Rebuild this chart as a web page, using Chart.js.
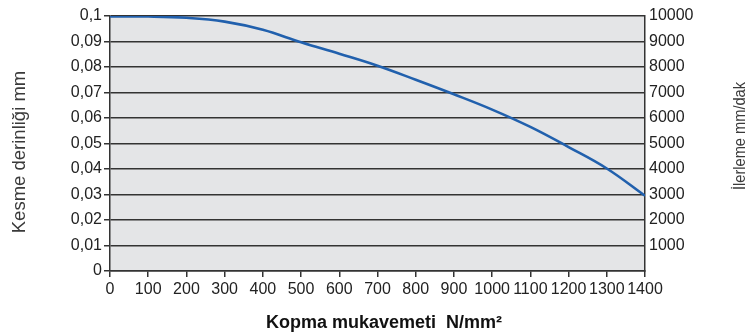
<!DOCTYPE html>
<html>
<head>
<meta charset="utf-8">
<script src="https://cdn.jsdelivr.net/npm/chart.js@4/dist/chart.umd.min.js"></script>
<style>
  html, body { margin: 0; padding: 0; background: #fff; }
  #wrap { width: 755px; height: 336px; }
</style>
</head>
<body>
<div id="wrap"><canvas id="grafico" width="755" height="336"></canvas></div>
<script>
// kopma mukavemeti (N/mm²)
const mukavemet = [0, 100, 200, 300, 400, 500, 600, 700, 800, 900, 1000, 1100, 1200, 1300, 1400];
// kesme derinliği (mm)
const kesmeDerinligi = [0.0998, 0.0998, 0.0993, 0.0978, 0.0946, 0.0897, 0.0852, 0.0805, 0.0750, 0.0693, 0.0633, 0.0565, 0.0486, 0.0402, 0.0295];
// eksen başlıkları
const solBaslik = "Kesme derinliği mm";
const sagBaslik = "İlerleme mm/dak";
const altBaslik = "Kopma mukavemeti  N/mm²";

const yaziTipi = "'Liberation Sans Narrow', 'Liberation Sans', sans-serif";
const cizgiRengi = "#333333";

// plot alanının arka planı ve eksen başlıkları
const arkaPlan = {
  id: "arkaPlan",
  beforeDraw(chart) {
    const { ctx, chartArea: a } = chart;
    ctx.save();
    ctx.fillStyle = "#e4e5e7";
    ctx.fillRect(a.left, a.top, a.right - a.left, a.bottom - a.top);
    ctx.restore();
  },
  afterDraw(chart) {
    const { ctx } = chart;
    ctx.save();
    ctx.fillStyle = "#3a3a3a";
    ctx.textAlign = "center";
    ctx.textBaseline = "middle";

    ctx.font = "18.5px " + yaziTipi;
    ctx.save();
    ctx.translate(20, 152);
    ctx.rotate(-Math.PI / 2);
    ctx.fillText(solBaslik, 0, 0);
    ctx.restore();

    // sağ başlık biraz daha sıkışık
    ctx.font = "17px " + yaziTipi;
    ctx.save();
    ctx.translate(740, 136);
    ctx.rotate(-Math.PI / 2);
    ctx.scale(0.86, 1);
    ctx.fillText(sagBaslik, 0, 0);
    ctx.restore();

    ctx.fillStyle = "#111";
    ctx.font = "bold 18px " + yaziTipi;
    ctx.fillText(altBaslik, 384, 323);
    ctx.restore();
  },
};

new Chart(document.getElementById("grafico"), {
  type: "line",
  data: {
    labels: mukavemet,
    datasets: [
      {
        label: solBaslik,
        data: mukavemet.map((x, i) => ({ x: x, y: kesmeDerinligi[i] })),
        borderColor: "#2160ad",
        borderWidth: 2.6,
        pointRadius: 0,
        fill: false,
        tension: 0.4,
        yAxisID: "y",
      },
    ],
  },
  options: {
    responsive: false,
    animation: false,
    layout: { padding: { top: 16, left: 0, right: 0, bottom: 0 } },
    plugins: {
      legend: { display: false },
      tooltip: { enabled: false },
    },
    scales: {
      x: {
        type: "linear",
        min: 0,
        max: 1400,
        afterFit: (s) => { s.height = 65; },
        ticks: {
          stepSize: 100,
          color: "#222",
          font: { family: yaziTipi, size: 16 },
          padding: 3,
          maxRotation: 0,
          autoSkip: false,
          callback: (v) => String(v),
        },
        grid: {
          drawOnChartArea: false,
          drawTicks: true,
          tickLength: 6,
          color: cizgiRengi,
          lineWidth: 1.5,
        },
        border: { display: true, color: cizgiRengi, width: 1.5 },
      },
      y: {
        position: "left",
        min: 0,
        max: 0.1,
        afterFit: (s) => { s.width = 110; },
        ticks: {
          stepSize: 0.01,
          color: "#222",
          font: { family: yaziTipi, size: 16 },
          padding: 2,
          callback: (v) => Number(v.toFixed(2)).toString().replace(".", ","),
        },
        grid: {
          color: cizgiRengi,
          lineWidth: 1.5,
          drawTicks: true,
          tickLength: 6,
        },
        border: { display: true, color: cizgiRengi, width: 1.5 },
      },
      y2: {
        position: "right",
        min: 0,
        max: 10000,
        afterFit: (s) => { s.width = 110; },
        ticks: {
          stepSize: 1000,
          color: "#222",
          font: { family: yaziTipi, size: 16 },
          padding: 4,
          callback: (v) => (v === 0 ? "" : String(v)),
        },
        grid: { drawOnChartArea: false, drawTicks: false },
        border: { display: true, color: cizgiRengi, width: 1.5 },
      },
    },
  },
  plugins: [arkaPlan],
});
</script>
</body>
</html>
